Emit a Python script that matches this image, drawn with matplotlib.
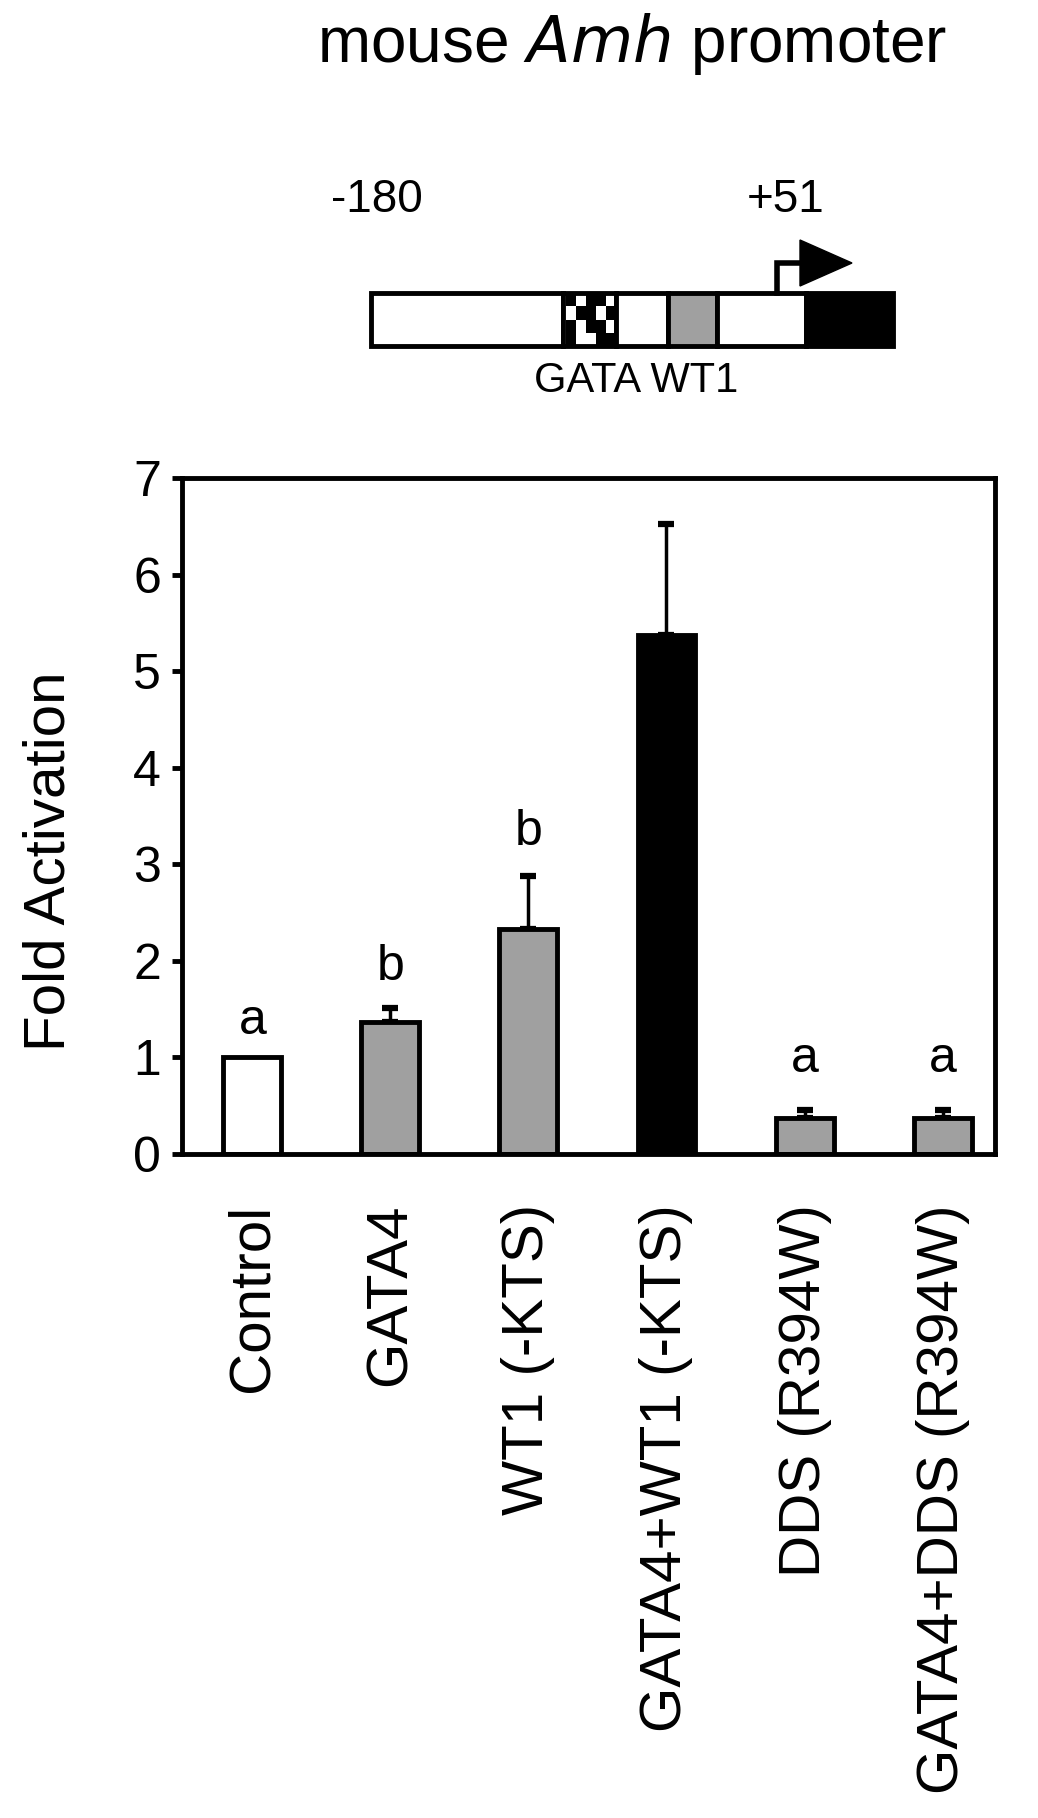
import matplotlib
matplotlib.use("Agg")
import matplotlib.pyplot as plt
from matplotlib.patches import Rectangle, Polygon
import numpy as np

# ---- data ----
categories = ["Control", "GATA4", "WT1 (-KTS)", "GATA4+WT1 (-KTS)",
              "DDS (R394W)", "GATA4+DDS (R394W)"]
values = [1.0, 1.37, 2.33, 5.37, 0.37, 0.37]
errors = [0.0, 0.14, 0.55, 1.15, 0.09, 0.09]
letters = ["a", "b", "b", "", "a", "a"]
letter_y = [1.38, 1.94, 3.33, None, 0.98, 0.98]
yticks = [0, 1, 2, 3, 4, 5, 6, 7]

colors = ["white", "#a0a0a0", "#a0a0a0", "black", "#a0a0a0", "#a0a0a0"]

plt.rcParams['font.family'] = ['Liberation Sans', 'DejaVu Sans']

W, H = 1038, 1818
fig = plt.figure(figsize=(W / 100, H / 100), dpi=100)

# ---- bar chart ----
ax = fig.add_axes([182 / W, 1 - 1154 / H, (995 - 182) / W, (1154 - 478) / H])
x = np.arange(len(categories))
ax.bar(x, values, width=0.42, color=colors, edgecolor="black", linewidth=3.5, zorder=2)
for xi, v, e in zip(x, values, errors):
    if e > 0:
        ax.errorbar(xi, v, yerr=[[0], [e]], fmt="none", ecolor="black",
                    elinewidth=2.5, capsize=6, capthick=4.5, zorder=1)
for xi, lt, ly in zip(x, letters, letter_y):
    if lt:
        ax.text(xi, ly, lt, ha="center", va="center", fontsize=36)

ax.set_xlim(-0.51, 5.38)
ax.set_ylim(0, 7)
ax.set_yticks(yticks)
ax.set_yticklabels([str(t) for t in yticks], fontsize=36)
ax.tick_params(axis="y", direction="out", length=7, width=3.5, pad=8)
ax.set_xticks(x)
ax.set_xticklabels(categories, rotation=90, fontsize=42, va="top", ha="center")
ax.tick_params(axis="x", length=0, pad=36)
for s in ax.spines.values():
    s.set_linewidth(3.5)

fig.text(50 / W, 1 - 861 / H, "Fold Activation", rotation=90, ha="center",
         va="center", fontsize=42)

# ---- title ----
fig.text(632 / W, 1 - 44 / H, r"mouse $\mathit{Amh}$ promoter", ha="center",
         va="center", fontsize=46)

# ---- promoter schematic (overlay axes in pixel coordinates) ----
ov = fig.add_axes([0, 0, 1, 1])
ov.set_xlim(0, W)
ov.set_ylim(H, 0)
ov.axis("off")

top, bot = 293, 346
segs = [(371, 563, "white"), (563, 616, "white"), (616, 668, "white"),
        (668, 717, "#a0a0a0"), (717, 806, "white"), (806, 893, "black")]
for x0, x1, c in segs:
    ov.add_patch(Rectangle((x0, top), x1 - x0, bot - top, facecolor=c,
                           edgecolor="black", linewidth=3.5))
# irregular checker pattern inside the GATA box
cw, ch = (616 - 566) / 5, (bot - top) / 4
checks = [(0, 0), (2, 0), (3, 0), (1, 1), (2, 1), (4, 1), (0, 2), (2, 2), (3, 2),
          (0, 3), (3, 3), (4, 3)]
for ci, ri in checks:
    ov.add_patch(Rectangle((566 + ci * cw, top + ri * ch), cw, ch,
                           facecolor="black", edgecolor="none"))
# transcription start arrow
ov.plot([777, 777, 805], [top, 263, 263], color="black", linewidth=4,
        solid_joinstyle="miter")
ov.add_patch(Polygon([(800, 240), (800, 286), (852, 263)], closed=True,
                     facecolor="black", edgecolor="black"))
ov.text(377, 200, "-180", ha="center", va="center", fontsize=33)
ov.text(786, 200, "+51", ha="center", va="center", fontsize=33)
ov.text(636, 381, "GATA WT1", ha="center", va="center", fontsize=30)

fig.savefig("out.png", dpi=100)
